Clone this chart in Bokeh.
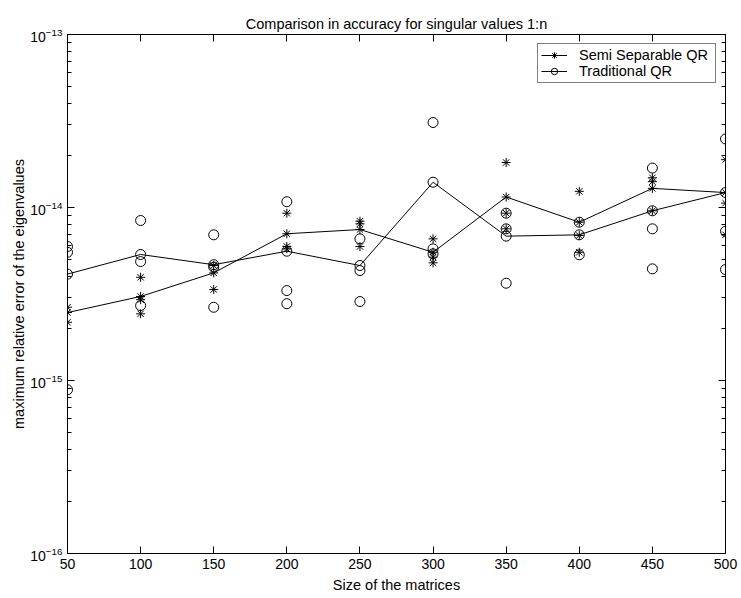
from bokeh.plotting import figure
from bokeh.models import LogAxis, LinearAxis, FixedTicker, Range1d, Legend
from bokeh.embed import file_html
from bokeh.resources import INLINE

# Matrix sizes
sizes = [50, 100, 150, 200, 250, 300, 350, 400, 450, 500]

# Connected (representative) values
semi_line = [2.47e-15, 3.06e-15, 4.19e-15, 7.05e-15, 7.46e-15,
             5.51e-15, 1.15e-14, 8.22e-15, 1.29e-14, 1.22e-14]
trad_line = [4.12e-15, 5.35e-15, 4.67e-15, 5.59e-15, 4.62e-15,
             1.40e-14, 6.83e-15, 6.95e-15, 9.57e-15, 1.22e-14]

# Other runs (markers only)
semi_runs_x = [50, 50, 100, 100, 100, 150, 150, 200, 200, 200, 250, 250, 250,
               300, 300, 300, 350, 350, 350, 400, 400, 400, 450, 450, 450,
               500, 500, 500]
semi_runs_y = [2.65e-15, 2.17e-15, 3.95e-15, 2.93e-15, 2.43e-15, 4.62e-15, 3.36e-15,
               9.27e-15, 5.95e-15, 5.77e-15, 8.33e-15, 8.05e-15, 5.95e-15,
               6.59e-15, 5.16e-15, 4.79e-15, 1.82e-14, 9.27e-15, 7.53e-15,
               1.24e-14, 6.89e-15, 5.51e-15, 1.485e-14, 1.41e-14, 9.57e-15,
               1.89e-14, 1.06e-14, 6.95e-15]
trad_runs_x = [50, 50, 50, 100, 100, 100, 150, 150, 150, 200, 200, 200,
               250, 250, 250, 300, 300, 300, 350, 350, 350, 400, 400,
               450, 450, 450, 500, 500, 500]
trad_runs_y = [5.95e-15, 5.51e-15, 8.84e-16, 8.41e-15, 4.87e-15, 2.71e-15,
               6.95e-15, 4.52e-15, 2.65e-15, 1.08e-14, 3.31e-15, 2.78e-15,
               6.59e-15, 4.32e-15, 2.86e-15, 3.10e-14, 5.77e-15, 5.40e-15,
               9.27e-15, 7.53e-15, 3.65e-15, 8.22e-15, 5.33e-15,
               1.69e-14, 7.53e-15, 4.42e-15, 2.49e-14, 7.29e-15, 4.38e-15]

x_ticks = [50, 100, 150, 200, 250, 300, 350, 400, 450, 500]
y_ticks = [1e-16, 1e-15, 1e-14, 1e-13]
y_minor = [m * d for d in [1e-16, 1e-15, 1e-14] for m in range(2, 10)]

FONT = "Liberation Sans"

p = figure(width=741, height=598, y_axis_type="log",
           x_range=Range1d(50, 500), y_range=Range1d(1e-16, 1e-13),
           output_backend="svg", toolbar_location=None,
           title="Comparison in accuracy for singular values 1:n",
           min_border_left=67, min_border_right=16,
           min_border_top=34, min_border_bottom=45,
           x_axis_label="Size of the matrices",
           y_axis_label="maximum relative error of the eigenvalues")

p.title.align = "center"
p.title.text_font = FONT
p.title.text_font_size = "14.5px"
p.title.text_font_style = "normal"
p.title.text_color = "black"
p.title.standoff = 6

p.grid.visible = False
p.outline_line_color = "black"
p.background_fill_color = "white"
p.border_fill_color = "white"

xt = FixedTicker(ticks=x_ticks)
yt = FixedTicker(ticks=y_ticks, minor_ticks=y_minor)

p.xaxis.ticker = xt
p.yaxis.ticker = yt

# extra mirror axes (no labels)
right_ax = LogAxis(ticker=yt, major_label_overrides={t: "" for t in y_ticks})
top_ax = LinearAxis(ticker=xt, major_label_overrides={t: "" for t in x_ticks})
p.add_layout(right_ax, "right")
p.add_layout(top_ax, "above")

for ax in p.axis:
    ax.axis_line_color = "black"
    ax.major_tick_line_color = "black"
    ax.minor_tick_line_color = "black"
    ax.major_tick_in = 7
    ax.major_tick_out = 0
    ax.minor_tick_in = 4
    ax.minor_tick_out = 0
    ax.major_label_text_font = FONT
    ax.major_label_text_font_size = "14px"
    ax.major_label_text_color = "black"
    ax.axis_label_text_font = FONT
    ax.axis_label_text_font_size = "14.5px"
    ax.axis_label_text_font_style = "normal"
    ax.axis_label_text_color = "black"

for ax in p.xaxis:
    ax.minor_tick_line_color = None

right_ax.major_label_standoff = 0
top_ax.major_label_standoff = 0
right_ax.major_label_text_font_size = "1px"
top_ax.major_label_text_font_size = "1px"

p.xaxis[0].major_label_standoff = 5
p.xaxis[0].axis_label_standoff = 2
p.yaxis[0].major_label_standoff = 5
p.yaxis[0].axis_label_standoff = 0

# lines
l1 = p.line(sizes, semi_line, line_color="black", line_width=1)
m1 = p.scatter(sizes, semi_line, marker="asterisk", size=9, line_color="black", line_width=1)
l2 = p.line(sizes, trad_line, line_color="black", line_width=1)
m2 = p.scatter(sizes, trad_line, marker="circle", size=10, line_color="black",
               fill_color=None, line_width=1)

p.scatter(semi_runs_x, semi_runs_y, marker="asterisk", size=9, line_color="black", line_width=1)
p.scatter(trad_runs_x, trad_runs_y, marker="circle", size=10, line_color="black",
          fill_color=None, line_width=1)

legend = Legend(items=[("Semi Separable QR", [l1, m1]), ("Traditional QR", [l2, m2])],
                location="top_right")
legend.margin = 9
legend.padding = 3
legend.spacing = 0
legend.glyph_width = 26
legend.glyph_height = 16
legend.label_height = 14
legend.label_width = 133
legend.label_standoff = 12
legend.label_text_font = FONT
legend.label_text_font_size = "14.5px"
legend.label_text_color = "black"
legend.border_line_color = "black"
legend.border_line_width = 1
legend.background_fill_color = "white"
legend.background_fill_alpha = 1
p.add_layout(legend, "center")

open("out.html", "w").write(file_html(p, INLINE))
